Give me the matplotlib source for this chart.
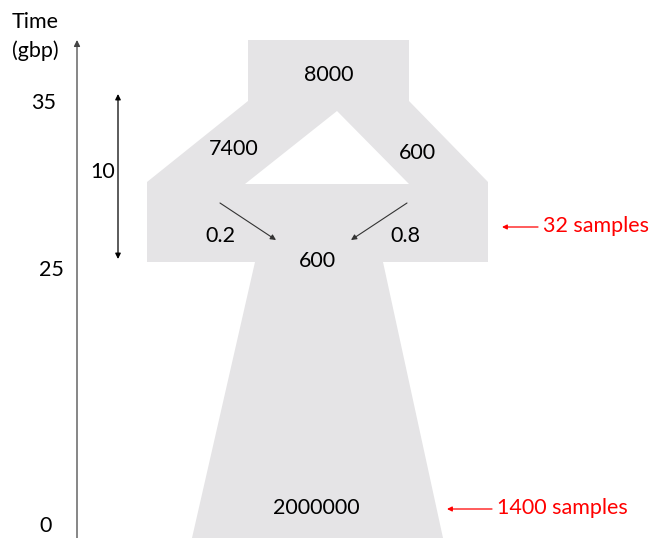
import matplotlib
matplotlib.use('Agg')
import matplotlib.pyplot as plt
from matplotlib.patches import Polygon

# ---------------------------------------------------------------------------
# Model values
# ---------------------------------------------------------------------------
time_ticks = ['35', '25', '0']
split_span = '10'
ancestral_size = '8000'
branch_sizes = ['7400', '600']
admix_props = ['0.2', '0.8']
admixed_size = '600'
modern_size = '2000000'
sample_labels = ['32 samples', '1400 samples']

GRAY = '#e5e4e6'
FONT = 'Lato'
FS = 15.5

# ---------------------------------------------------------------------------
# Canvas in pixel units (y grows downwards)
# ---------------------------------------------------------------------------
fig = plt.figure(figsize=(6.53, 5.38), dpi=100)
ax = fig.add_axes([0, 0, 1, 1])
ax.set_xlim(0, 653)
ax.set_ylim(538, 0)
ax.axis('off')

# ancestral block + two branches + admixed block
outer = [(248, 40), (409, 40), (409, 101), (488, 182), (488, 262),
         (383, 262), (443, 538), (192, 538), (255, 262), (147, 262),
         (147, 182), (248, 101)]
ax.add_patch(Polygon(outer, closed=True, facecolor=GRAY, edgecolor='none'))
hole = [(337, 111), (409, 184), (245, 184)]
ax.add_patch(Polygon(hole, closed=True, facecolor='white', edgecolor='none'))

# time axis
ax.annotate('', xy=(77, 40), xytext=(77, 540),
            arrowprops=dict(arrowstyle='-|>', color='#444444', lw=0.9,
                            mutation_scale=9, shrinkA=0, shrinkB=0))
ax.text(12, 22, 'Time', fontsize=FS, family=FONT, va='center', ha='left')
ax.text(12, 51, '(gbp)', fontsize=FS, family=FONT, va='center', ha='left')
for lab, y, x in zip(time_ticks, [103, 270, 526], [56, 64, 52]):
    ax.text(x, y, lab, fontsize=FS, family=FONT, va='center', ha='right')

# 10 gbp span
ax.annotate('', xy=(118, 94), xytext=(118, 259),
            arrowprops=dict(arrowstyle='<|-|>', color='black', lw=0.9,
                            mutation_scale=8, shrinkA=0, shrinkB=0))
ax.text(103, 172, split_span, fontsize=FS, family=FONT, va='center', ha='center')

# population sizes
ax.text(329, 75, ancestral_size, fontsize=FS, family=FONT, va='center', ha='center')
ax.text(234, 149, branch_sizes[0], fontsize=FS, family=FONT, va='center', ha='center')
ax.text(417, 153, branch_sizes[1], fontsize=FS, family=FONT, va='center', ha='center')
ax.text(317, 261, admixed_size, fontsize=FS, family=FONT, va='center', ha='center')
ax.text(316, 508, modern_size, fontsize=FS, family=FONT, va='center', ha='center')

# admixture pulses
ax.annotate('', xy=(276, 240), xytext=(220, 203),
            arrowprops=dict(arrowstyle='-|>', color='#333333', lw=0.8,
                            mutation_scale=8, shrinkA=0, shrinkB=0))
ax.annotate('', xy=(351, 240), xytext=(407, 203),
            arrowprops=dict(arrowstyle='-|>', color='#333333', lw=0.8,
                            mutation_scale=8, shrinkA=0, shrinkB=0))
ax.text(220, 236, admix_props[0], fontsize=FS, family=FONT, va='center', ha='center')
ax.text(405, 236, admix_props[1], fontsize=FS, family=FONT, va='center', ha='center')

# sampling
for lab, y, x0, x1 in zip(sample_labels, [227, 509], [538, 492], [502, 447]):
    ax.annotate('', xy=(x1, y), xytext=(x0, y),
                arrowprops=dict(arrowstyle='-|>', color='red', lw=0.9,
                                mutation_scale=7, shrinkA=0, shrinkB=0))
    ax.text(x0 + 5, y - 1, lab, fontsize=FS, family=FONT, color='red',
            va='center', ha='left')

fig.savefig('out.png', dpi=100)
